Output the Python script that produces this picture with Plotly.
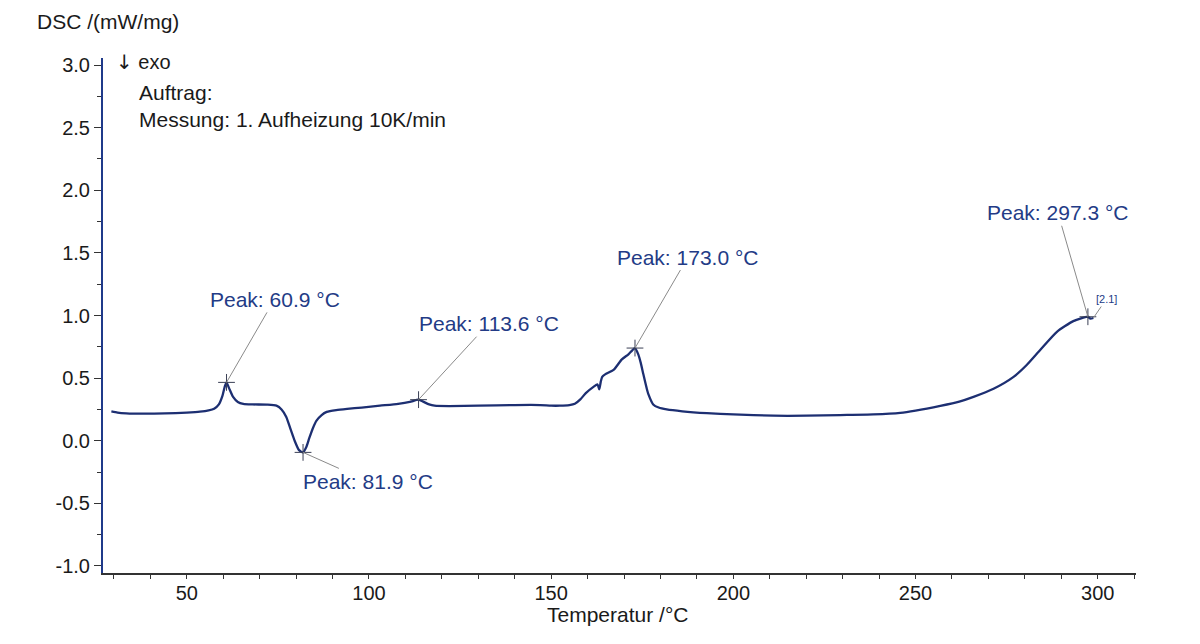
import plotly.graph_objects as go

# DSC curve (Temperatur °C, DSC mW/mg)
temperature = [29.3, 31, 33.4, 38, 44, 50, 53.6, 56, 57.5, 58.8, 59.8, 60.4, 60.9, 61.6, 62.7, 64, 65.5, 68, 72,
               74.6, 76, 77.3, 78.5, 79.6, 80.8, 81.9, 82.8, 83.6, 84.6, 85.6, 87, 88.4, 91, 94, 98, 103, 108,
               111.2, 113.6, 115, 116.5, 118, 122, 130, 140, 147, 150, 152.4, 155, 156.5, 158, 159.5, 161.6,
               162.7, 163.2, 163.6, 164, 164.8, 167.1, 169.4, 171.2, 172.2, 173.0, 173.9, 174.6, 175.3, 176.2,
               176.7, 178.0, 179.5, 181.7, 186, 192.7, 200, 211, 220, 229.3, 238.4, 245.8, 250, 256.8, 262,
               265.9, 271.4, 276.9, 280.5, 284.2, 288.8, 293.3, 297.3, 298.0, 298.8]
dsc = [0.235, 0.225, 0.219, 0.216, 0.218, 0.225, 0.232, 0.242, 0.255, 0.29, 0.36, 0.43, 0.466, 0.42, 0.35, 0.31,
       0.295, 0.29, 0.288, 0.28, 0.25, 0.19, 0.09, 0.0, -0.075, -0.093, -0.05, 0.02, 0.10, 0.16, 0.205, 0.23,
       0.245, 0.255, 0.265, 0.28, 0.295, 0.31, 0.328, 0.31, 0.29, 0.28, 0.277, 0.28, 0.285, 0.285, 0.28, 0.28,
       0.285, 0.295, 0.33, 0.38, 0.43, 0.45, 0.41, 0.47, 0.51, 0.53, 0.565, 0.65, 0.69, 0.72, 0.74, 0.69, 0.62,
       0.53, 0.42, 0.37, 0.29, 0.265, 0.25, 0.235, 0.22, 0.21, 0.20, 0.20, 0.205, 0.21, 0.222, 0.24, 0.278, 0.312,
       0.35, 0.415, 0.51, 0.605, 0.725, 0.87, 0.955, 0.99, 0.975, 0.98]

# Peaks
peak_temps = [60.9, 81.9, 113.6, 173.0, 297.3]
peak_values = [0.466, -0.093, 0.328, 0.74, 0.99]
peak_labels = ["Peak: 60.9 °C", "Peak: 81.9 °C", "Peak: 113.6 °C", "Peak: 173.0 °C", "Peak: 297.3 °C"]
label_dx = [48, 65, 70, 53, -30]
label_dy = [-83, 29, -76, -91, -104]

y_ticks = [-1.0, -0.5, 0.0, 0.5, 1.0, 1.5, 2.0, 2.5, 3.0]
y_ticktext = ["-1.0", "-0.5", "0.0", "0.5", "1.0", "1.5", "2.0", "2.5", "3.0"]
x_ticks = [50, 100, 150, 200, 250, 300]

NAVY = "#1d2f72"
LABEL_BLUE = "#233b86"
FONT = "Liberation Sans, Arial, sans-serif"

fig = go.Figure()
fig.add_trace(go.Scatter(x=temperature, y=dsc, mode="lines",
                         line=dict(color=NAVY, width=2.3, shape="spline", smoothing=0.6),
                         hoverinfo="skip", showlegend=False))
fig.add_trace(go.Scatter(x=peak_temps, y=peak_values, mode="markers",
                         marker=dict(symbol="cross-thin", size=12, line=dict(color="#3a3f55", width=1)),
                         showlegend=False, hoverinfo="skip"))

annotations = []
for t, v, lab, dx, dy in zip(peak_temps, peak_values, peak_labels, label_dx, label_dy):
    annotations.append(dict(x=t, y=v, xref="x", yref="y", text=lab, showarrow=True,
                            arrowhead=0, arrowwidth=1, arrowcolor="#8a8a8a", ax=dx, ay=dy,
                            font=dict(family=FONT, size=21, color=LABEL_BLUE)))
# end marker label
annotations.append(dict(x=temperature[-1], y=dsc[-1], xref="x", yref="y", text="[2.1]", showarrow=True,
                        arrowhead=0, arrowwidth=1, arrowcolor="#8a8a8a", ax=13, ay=-19,
                        font=dict(family=FONT, size=11, color=LABEL_BLUE)))

def px(xp):
    return (xp - 103) / (1136 - 103)

def py(yp):
    return (573 - yp) / (573 - 58)

texts = [
    ("DSC /(mW/mg)", 35, 22, "left", 21),
    ("<span style='font-family:DejaVu Sans'>↓</span> exo", 114, 62, "left", 20),
    ("Auftrag:<br>Messung: 1. Aufheizung 10K/min", 137, 106, "left", 21),
    ("Temperatur /°C", 617, 614, "center", 21),
]
for txt, xp, yp, anc, fs in texts:
    annotations.append(dict(x=px(xp), y=py(yp), xref="paper", yref="paper", text=txt, showarrow=False,
                            xanchor=anc, yanchor="middle", align="left",
                            font=dict(family=FONT, size=fs, color="#1a1a1a")))

fig.update_layout(
    width=1200, height=644,
    margin=dict(l=103, r=64, t=58, b=71),
    paper_bgcolor="white", plot_bgcolor="white",
    annotations=annotations,
    xaxis=dict(range=[27, 310.5], tickvals=x_ticks, ticks="outside", ticklen=4, tickcolor="#333333",
               showline=True, linecolor="#333333", linewidth=2, showgrid=False, zeroline=False,
               ticklabelstandoff=-3,
               tickfont=dict(family=FONT, size=20, color="#1a1a1a"),
               minor=dict(dtick=10, tick0=0, ticks="outside", ticklen=4, tickcolor="#333333")),
    yaxis=dict(range=[-1.056, 3.056], tickvals=y_ticks, ticktext=y_ticktext, ticks="outside", ticklen=7,
               tickcolor="#333333", showline=True, linecolor="#1f3a8a", linewidth=2, showgrid=False,
               zeroline=False, tickfont=dict(family=FONT, size=20, color="#1a1a1a"),
               minor=dict(dtick=0.25, tick0=0, ticks="outside", ticklen=4, tickcolor="#333333")),
)

fig.write_html("out.html")
